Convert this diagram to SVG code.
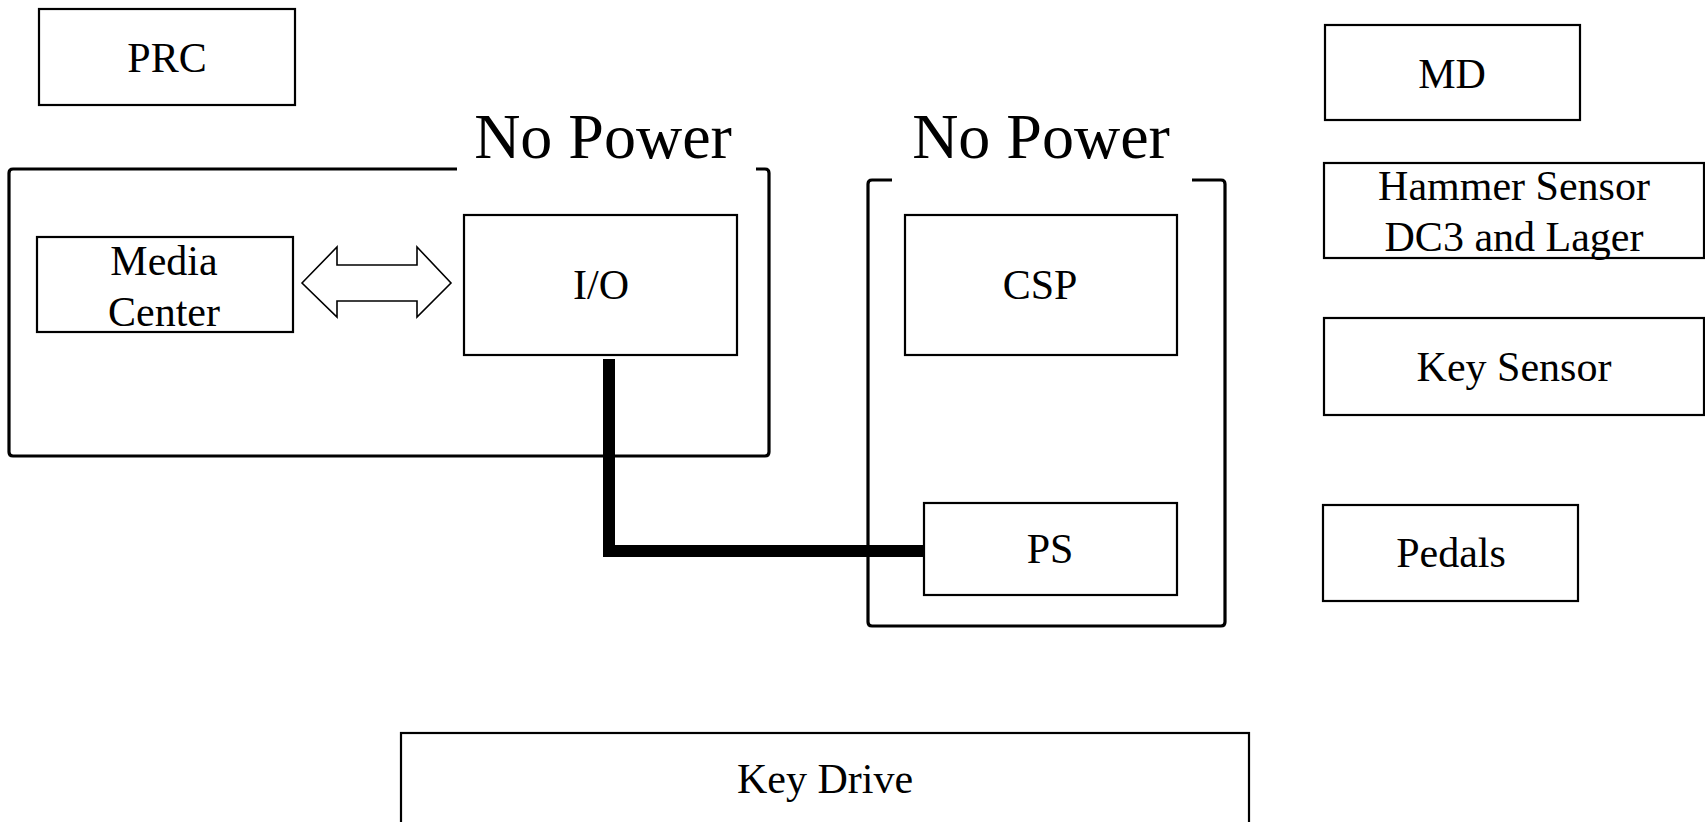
<svg xmlns="http://www.w3.org/2000/svg" width="1705" height="822" viewBox="0 0 1705 822">
<style>
.box{fill:#fff;stroke:#000;stroke-width:2.2}
.cont{fill:none;stroke:#000;stroke-width:3.2;stroke-linejoin:round}
.t{font-family:"Liberation Serif","Times New Roman",serif;font-size:42px;fill:#000;text-anchor:middle}
.np{font-family:"Liberation Serif","Times New Roman",serif;font-size:64px;fill:#000;text-anchor:middle}
</style>
<rect width="1705" height="822" fill="#fff"/>
<g id="container-left">
<path class="cont" d="M457 169 H13 Q9 169 9 173 V452 Q9 456 13 456 H765 Q769 456 769 452 V173 Q769 169 765 169 H756"/>
<text class="np" x="603" y="158">No Power</text>
</g>
<g id="container-right">
<path class="cont" d="M892 180 H872 Q868 180 868 184 V622 Q868 626 872 626 H1221 Q1225 626 1225 622 V184 Q1225 180 1221 180 H1192"/>
<text class="np" x="1041" y="158">No Power</text>
</g>
<g id="connectors">
<polygon points="302,283 337,247 337,265 417,265 417,247 451,283 417,317 417,301 337,301 337,317" fill="#fff" stroke="#000" stroke-width="1.6"/>
<polyline points="609,359 609,551 924,551" fill="none" stroke="#000" stroke-width="12" stroke-linejoin="miter"/>
</g>
<g id="prc"><rect class="box" x="39" y="9" width="256" height="96"/><text class="t" x="167" y="72">PRC</text></g>
<g id="media-center"><rect class="box" x="37" y="237" width="256" height="95"/><text class="t" x="164" y="275">Media</text><text class="t" x="164" y="326">Center</text></g>
<g id="io"><rect class="box" x="464" y="215" width="273" height="140"/><text class="t" x="601" y="299">I/O</text></g>
<g id="csp"><rect class="box" x="905" y="215" width="272" height="140"/><text class="t" x="1040" y="299">CSP</text></g>
<g id="ps"><rect class="box" x="924" y="503" width="253" height="92"/><text class="t" x="1050" y="563">PS</text></g>
<g id="md"><rect class="box" x="1325" y="25" width="255" height="95"/><text class="t" x="1452" y="88">MD</text></g>
<g id="hammer-sensor"><rect class="box" x="1324" y="163" width="380" height="95"/><text class="t" x="1514" y="200">Hammer Sensor</text><text class="t" x="1514" y="251">DC3 and Lager</text></g>
<g id="key-sensor"><rect class="box" x="1324" y="318" width="380" height="97"/><text class="t" x="1514" y="381">Key Sensor</text></g>
<g id="pedals"><rect class="box" x="1323" y="505" width="255" height="96"/><text class="t" x="1451" y="567">Pedals</text></g>
<g id="key-drive"><rect class="box" x="401" y="733" width="848" height="100"/><text class="t" x="825" y="793">Key Drive</text></g>
</svg>
